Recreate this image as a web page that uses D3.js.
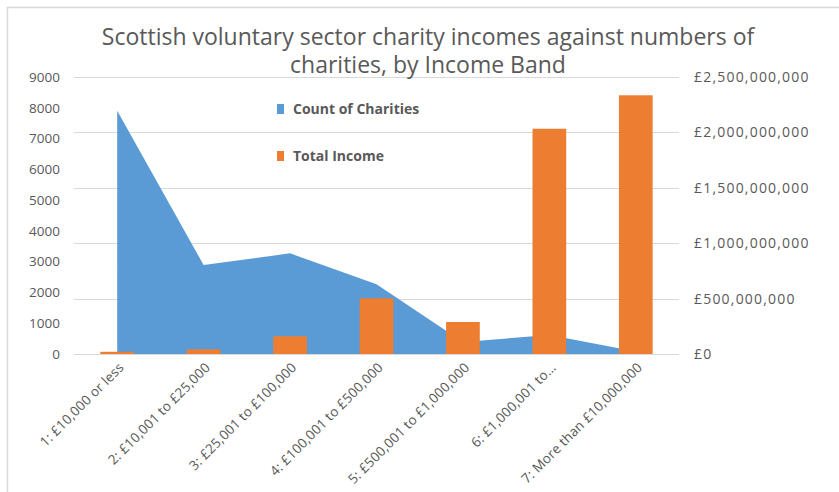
<!DOCTYPE html>
<html>
<head>
<meta charset="utf-8">
<title>Scottish charity incomes by band</title>
<script src="https://d3js.org/d3.v7.min.js"></script>
<style>
  body { margin: 0; background: #fff; font-family: "Open Sans", "Noto Sans", sans-serif; }
  svg { display: block; }
  .axis text { fill: #595959; }
</style>
</head>
<body>
<div id="chart"></div>
<script>
// income bands (x categories)
var bands = ["1: £10,000 or less", "2: £10,001 to £25,000", "3: £25,001 to £100,000",
             "4: £100,001 to £500,000", "5: £500,001 to £1,000,000", "6: £1,000,001 to…",
             "7: More than £10,000,000"];
// number of charities per band (left axis, area)
var counts = [7900, 2890, 3270, 2270, 390, 620, 80];
// total income per band in £ (right axis, bars)
var incomes = [20e6, 42e6, 160e6, 503e6, 289e6, 2033e6, 2335e6];
var countTicks = [0, 1000, 2000, 3000, 4000, 5000, 6000, 7000, 8000, 9000];
var incomeTicks = [0, 5e8, 10e8, 15e8, 20e8, 25e8];

var W = 839, H = 492;
// plot box (don't call it "top", window.top is read-only)
var plotL = 74, plotR = 679, plotT = 77, plotB = 354;
var grey = "#595959", gridCol = "#d9d9d9";
var blue = "#5b9bd5", orange = "#ed7d31";

var svg = d3.select("#chart").append("svg")
  .attr("width", W).attr("height", H);

// outer frame (only top + left visible in the reference)
svg.append("path")
  .attr("d", "M7.5," + H + "V7.5H" + W)
  .attr("fill", "none").attr("stroke", gridCol).attr("stroke-width", 1.5);

var x = d3.scaleBand().domain(bands).range([plotL, plotR]).padding(0);
var yCount = d3.scaleLinear().domain([0, 9000]).range([plotB, plotT]);
var yIncome = d3.scaleLinear().domain([0, 2.5e9]).range([plotB, plotT]);

// gridlines follow the right axis
svg.append("g").selectAll("line")
  .data(incomeTicks.slice(1))
  .join("line")
    .attr("x1", plotL).attr("x2", plotR)
    .attr("y1", function(d) { return Math.round(yIncome(d)) + 0.5; })
    .attr("y2", function(d) { return Math.round(yIncome(d)) + 0.5; })
    .attr("stroke", gridCol);

// area for counts
var area = d3.area()
  .x(function(d, i) { return x(bands[i]) + x.bandwidth() / 2; })
  .y0(yCount(0))
  .y1(function(d) { return yCount(d); });

svg.append("path")
  .datum(counts)
  .attr("d", area)
  .attr("fill", blue);

// bars for income
var barW = x.bandwidth() * 0.39;
svg.append("g").selectAll("rect")
  .data(incomes)
  .join("rect")
    .attr("x", function(d, i) { return x(bands[i]) + x.bandwidth() / 2 - barW / 2; })
    .attr("y", function(d) { return yIncome(d); })
    .attr("width", barW)
    .attr("height", function(d) { return yIncome(0) - yIncome(d); })
    .attr("fill", orange);

// baseline
svg.append("line")
  .attr("x1", plotL).attr("x2", plotR)
  .attr("y1", plotB + 0.5).attr("y2", plotB + 0.5)
  .attr("stroke", gridCol);

// left axis
var yl = svg.append("g").attr("class", "axis")
  .attr("transform", "translate(" + (plotL - 14) + ",0)")
  .call(d3.axisLeft(yCount).tickValues(countTicks).tickSize(0).tickPadding(0).tickFormat(d3.format("d")));
yl.select(".domain").remove();
yl.selectAll("text").attr("font-size", 13.5).attr("font-family", "Open Sans");

// right axis
var fmtPound = function(d) { return "£" + d3.format(",")(d); };
var yr = svg.append("g").attr("class", "axis")
  .attr("transform", "translate(" + (plotR + 15) + ",0)")
  .call(d3.axisRight(yIncome).tickValues(incomeTicks).tickSize(0).tickPadding(0).tickFormat(fmtPound));
yr.select(".domain").remove();
yr.selectAll("text").attr("font-size", 14).attr("font-family", "Open Sans")
  .attr("letter-spacing", 1.2);

// x labels, rotated
svg.append("g").attr("class", "axis").selectAll("text")
  .data(bands)
  .join("text")
    .attr("transform", function(d) {
      return "translate(" + (x(d) + x.bandwidth() / 2 + 4) + "," + (plotB + 11) + ") rotate(-45)";
    })
    .attr("text-anchor", "end")
    .attr("dy", "0.35em")
    .attr("font-size", 13.5)
    .attr("letter-spacing", 0.15)
    .attr("font-family", "Open Sans")
    .text(function(d) { return d; });

// title
var title = svg.append("text")
  .attr("x", 428).attr("text-anchor", "middle")
  .attr("fill", grey).attr("font-size", 23).attr("font-family", "Open Sans");
title.append("tspan").attr("x", 428).attr("y", 45)
  .text("Scottish voluntary sector charity incomes against numbers of");
title.append("tspan").attr("x", 428).attr("y", 73)
  .text("charities, by Income Band");

// legend
var legend = [{name: "Count of Charities", color: blue, y: 109},
              {name: "Total Income", color: orange, y: 156}];
var lg = svg.append("g").selectAll("g")
  .data(legend)
  .join("g")
    .attr("transform", function(d) { return "translate(277," + d.y + ")"; });
lg.append("rect")
  .attr("x", 0).attr("y", -5).attr("width", 7).attr("height", 10)
  .attr("fill", function(d) { return d.color; });
lg.append("text")
  .attr("x", 16).attr("dy", "0.35em")
  .attr("fill", grey).attr("font-size", 14).attr("font-weight", "bold")
  .attr("font-family", "Open Sans")
  .text(function(d) { return d.name; });
</script>
</body>
</html>
